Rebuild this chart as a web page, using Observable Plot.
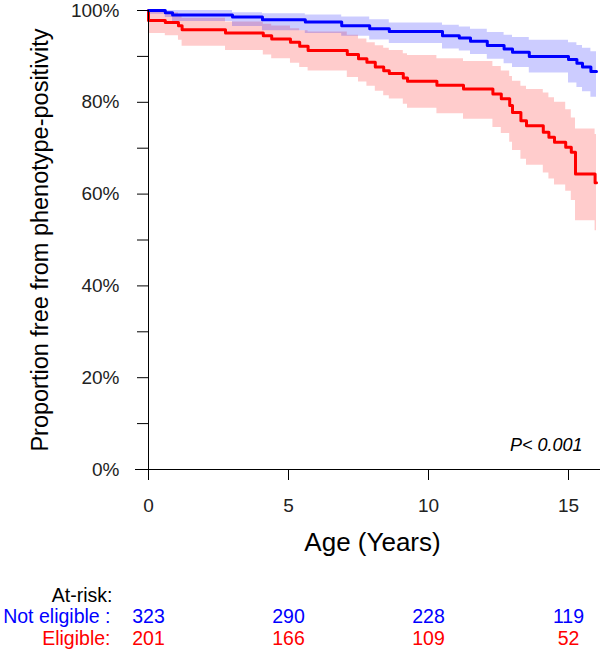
<!DOCTYPE html>
<html>
<head>
<meta charset="utf-8">
<script src="https://cdn.jsdelivr.net/npm/d3@7"></script>
<script src="https://cdn.jsdelivr.net/npm/@observablehq/plot@0.6"></script>
<style>
  html, body { margin: 0; padding: 0; background: #fff; }
</style>
</head>
<body>
<div id="chart"></div>
<script>
// ---- Data ----
// Not eligible (blue): Kaplan–Meier steps, % free from phenotype-positivity
const blueTime  = [0,    0.6,  0.86, 3.0,  4.07, 5.6,  6.9,  7.9,  8.6,  10.5, 11.1, 11.5, 12.1, 12.7, 13.0, 13.6, 15.0, 15.3, 15.5, 15.8, 16];
const blueSurv  = [100,  99.5, 99.0, 98.6, 98.0, 97.5, 96.7, 96.0, 95.4, 94.5, 94.0, 93.3, 92.4, 91.6, 90.9, 90.0, 89.3, 88.5, 87.7, 86.7, 86.7];
const blueLower = [99.2, 98.5, 97.6, 96.5, 95.6, 95.0, 94.4, 93.6, 92.8, 91.6, 91.2, 90.4, 89.4, 88.4, 87.6, 86.4, 84.2, 83.2, 82.3, 81.1, 81.1];
const blueUpper = [100,  100,  100,  99.5, 99.3, 99.0, 98.6, 98.0, 97.3, 96.8, 96.4, 95.9, 95.2, 94.6, 94.1, 93.5, 93.0, 92.4, 91.8, 91.0, 91.0];

// Eligible (red)
const redTime  = [0,   0,    0.6,  1.07, 1.2,  2.75, 4.1,  4.4,  5.07, 5.4,  5.7,  7.1,  7.5,  7.8,  8.1,  8.4,  8.6,  9.1,  9.25, 10.3, 11.25, 12.3, 12.6, 12.9, 13.0, 13.3, 13.5, 14.1, 14.3, 14.5, 14.9, 15.1, 15.25, 15.95, 16];
const redSurv  = [100, 97.8, 97.4, 96.7, 95.8, 95.1, 94.5, 93.8, 93.1, 92.2, 91.3, 90.4, 89.5, 88.7, 87.7, 86.9, 86.3, 85.3, 84.6, 83.7, 82.9,  81.8, 80.8, 79.3, 77.8, 76.0, 74.9, 73.5, 72.4, 71.3, 70.2, 69.1, 64.4,  62.5,  62.5];
const redLower = [100, 95.0, 94.5, 93.5, 92.2, 91.3, 90.3, 89.5, 88.5, 87.6, 86.8, 85.4, 84.4, 83.5, 82.4, 81.4, 80.7, 79.6, 78.7, 77.5, 76.3,  74.5, 73.2, 71.3, 69.5, 67.6, 66.3, 64.6, 63.3, 62.0, 60.6, 58.6, 54.2,  52.0,  52.0];
const redUpper = [100, 100,  99.5, 99.0, 98.3, 97.5, 97.0, 96.6, 96.0, 95.6, 95.3, 94.6, 93.8, 93.0, 92.3, 91.8, 91.3, 90.6, 90.2, 89.5, 88.9,  87.8, 86.8, 85.6, 84.6, 83.5, 82.8, 82.0, 81.0, 80.0, 78.4, 76.6, 74.2,  73.0,  73.0];

// Axis ticks
const xTicks = [0, 5, 10, 15];
const yTicks = [0, 20, 40, 60, 80, 100];
const yMinorTicks = [10, 30, 50, 70, 90];

// At-risk table
const atRiskTimes = [0, 5, 10, 15];
const notEligibleAtRisk = [323, 290, 228, 119];
const eligibleAtRisk = [201, 166, 109, 52];

// ---- Build tables ----
const blue = blueTime.map((t, i) => ({t, s: blueSurv[i], lo: blueLower[i], hi: blueUpper[i]}));
const red  = redTime.map((t, i) => ({t, s: redSurv[i], lo: redLower[i], hi: redUpper[i]}));
const riskBlue = atRiskTimes.map((t, i) => ({t, n: notEligibleAtRisk[i]}));
const riskRed  = atRiskTimes.map((t, i) => ({t, n: eligibleAtRisk[i]}));

const BLUE = "#0000ff", RED = "#ff0000";
const FONT = "'Liberation Sans', Arial, Helvetica, sans-serif";

const chart = Plot.plot({
  width: 600,
  height: 661,
  marginLeft: 148,
  marginRight: 4,
  marginTop: 10,
  marginBottom: 192,
  style: {fontFamily: FONT, background: "#fff", color: "#222"},
  x: {domain: [0, 16]},
  y: {domain: [0, 100]},
  marks: [
    // confidence bands
    Plot.areaY(red,  {x: "t", y1: "lo", y2: "hi", curve: "step-after", fill: RED,  fillOpacity: 0.2}),
    Plot.areaY(blue, {x: "t", y1: "lo", y2: "hi", curve: "step-after", fill: BLUE, fillOpacity: 0.2}),
    // survival curves
    Plot.line(red,  {x: "t", y: "s", curve: "step-after", stroke: RED,  strokeWidth: 3}),
    Plot.line(blue, {x: "t", y: "s", curve: "step-after", stroke: BLUE, strokeWidth: 3}),
    // axis lines
    Plot.ruleY([0], {stroke: "#000", insetLeft: -13, insetRight: -4}),
    Plot.ruleX([0], {stroke: "#000", insetBottom: -11}),
    // axes
    Plot.axisY({ticks: yTicks, tickSize: 11, tickPadding: 18, tickFormat: d => d + "%", label: null, fontSize: 19, stroke: "#000"}),
    Plot.axisY({ticks: yMinorTicks, tickSize: 11, tickFormat: () => "", label: null, stroke: "#000"}),
    Plot.axisX({ticks: xTicks, tickSize: 11, tickPadding: 18, label: null, fontSize: 19, stroke: "#000"}),
    // axis titles
    Plot.text(["Age (Years)"], {frameAnchor: "bottom", dy: 81, fontSize: 26, fill: "#000"}),
    Plot.text(["Proportion free from phenotype-positivity"], {frameAnchor: "left", dx: -108, rotate: -90, textAnchor: "middle", fontSize: 23.5, fill: "#000"}),
    // p-value
    Plot.text(["P< 0.001"], {frameAnchor: "bottom-right", dx: -14, dy: -19, textAnchor: "end", fontStyle: "italic", fontSize: 18, fill: "#000"}),
    // at-risk table
    Plot.text(["At-risk:"], {frameAnchor: "bottom-left", dx: -36, dy: 132, textAnchor: "end", fontSize: 19.5, fill: "#000"}),
    Plot.text(["Not eligible :"], {frameAnchor: "bottom-left", dx: -38, dy: 153, textAnchor: "end", fontSize: 19.5, fill: BLUE}),
    Plot.text(["Eligible:"], {frameAnchor: "bottom-left", dx: -38, dy: 175, textAnchor: "end", fontSize: 19.5, fill: RED}),
    Plot.text(riskBlue, {x: "t", text: "n", frameAnchor: "bottom", dy: 153, fontSize: 19.5, fill: BLUE}),
    Plot.text(riskRed,  {x: "t", text: "n", frameAnchor: "bottom", dy: 175, fontSize: 19.5, fill: RED})
  ]
});
document.getElementById("chart").appendChild(chart);
</script>
</body>
</html>
